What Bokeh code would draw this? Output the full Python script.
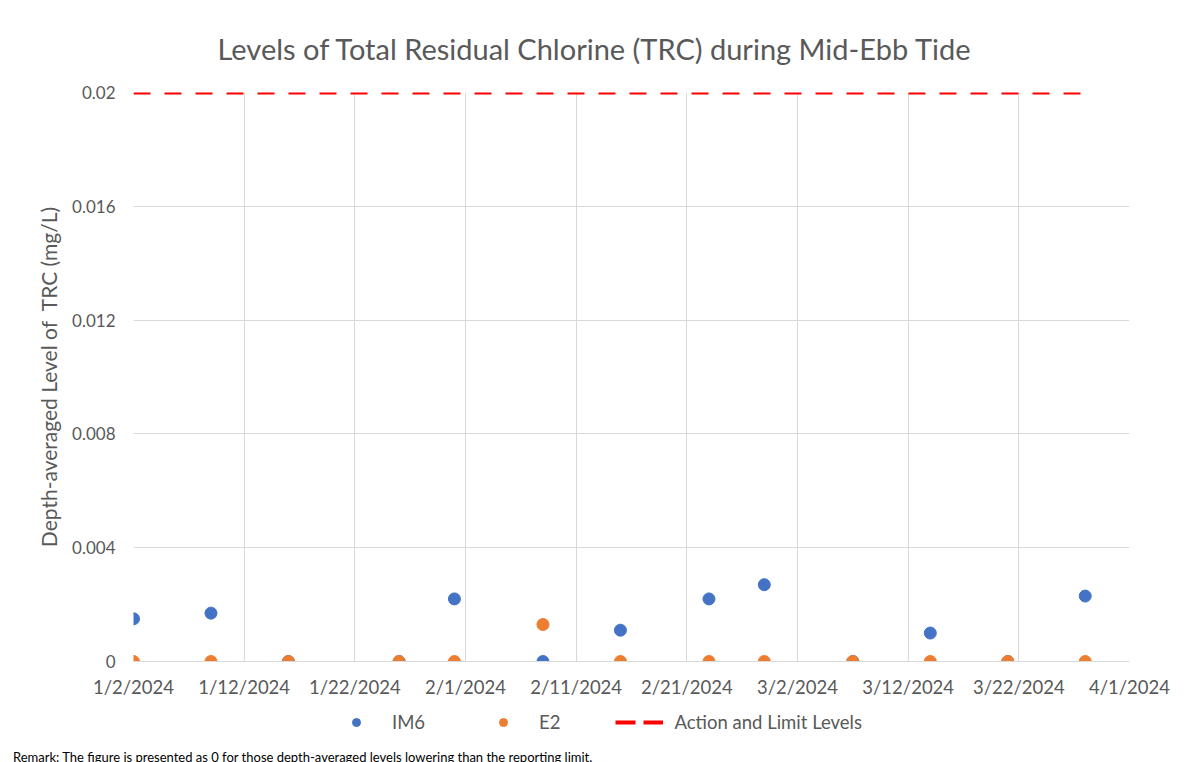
from datetime import datetime
from bokeh.plotting import figure
from bokeh.layouts import column
from bokeh.models import (ColumnDataSource, FixedTicker, CustomJSTickFormatter, Range1d,
                          Legend, LegendItem, Div)
from bokeh.embed import file_html
from bokeh.resources import INLINE

FONT = "Lato"
GREY = "#595959"
BLUE = "#4472c4"
ORANGE = "#ed7d31"
RED = "#ff0000"

# ---- data ----
im6_dates = ["2024-01-02", "2024-01-09", "2024-01-16", "2024-01-26", "2024-01-31", "2024-02-08",
             "2024-02-15", "2024-02-23", "2024-02-28", "2024-03-07", "2024-03-14", "2024-03-21",
             "2024-03-28"]
im6_values = [0.0015, 0.0017, 0.0, 0.0, 0.0022, 0.0, 0.0011, 0.0022, 0.0027, 0.0, 0.0010, 0.0, 0.0023]
e2_dates = im6_dates
e2_values = [0.0, 0.0, 0.0, 0.0, 0.0, 0.0013, 0.0, 0.0, 0.0, 0.0, 0.0, 0.0, 0.0]
limit_dates = ["2024-01-02", "2024-03-28"]
limit_values = [0.02, 0.02]
x_tick_dates = ["2024-01-02", "2024-01-12", "2024-01-22", "2024-02-01", "2024-02-11", "2024-02-21",
                "2024-03-02", "2024-03-12", "2024-03-22", "2024-04-01"]
y_ticks = [0, 0.004, 0.008, 0.012, 0.016, 0.02]
y_tick_labels = ["0", "0.004", "0.008", "0.012", "0.016", "0.02"]
series_names = ["IM6", "E2", "Action and Limit Levels"]
remark_text = "Remark: The figure is presented as 0 for those depth-averaged levels lowering than the reporting limit."

def d(s):
    return datetime.strptime(s, "%Y-%m-%d")

def ms(s):
    return (d(s) - datetime(1970, 1, 1)).total_seconds() * 1000.0

im6_src = ColumnDataSource(dict(x=[d(s) for s in im6_dates], y=im6_values))
e2_src = ColumnDataSource(dict(x=[d(s) for s in e2_dates], y=e2_values))
lim_src = ColumnDataSource(dict(x=[d(s) for s in limit_dates], y=limit_values))

# ---------------- main chart ----------------
p = figure(x_axis_type="datetime", output_backend="svg", toolbar_location=None,
           frame_width=996, frame_height=569,
           min_border_left=133, min_border_right=61, min_border_top=92, min_border_bottom=44,
           x_range=Range1d(ms(x_tick_dates[0]), ms(x_tick_dates[-1])),
           y_range=Range1d(0, 0.02))
p.outline_line_color = None
p.background_fill_color = "white"
p.border_fill_color = "white"

p.title.text = "Levels of Total Residual Chlorine (TRC) during Mid-Ebb Tide"
p.title.align = "left"
p.title.offset = 84
p.title.standoff = 54
p.title.text_font = FONT
p.title.text_font_size = "29px"
p.title.text_font_style = "normal"
p.title.text_color = GREY

p.xgrid.ticker = FixedTicker(ticks=[ms(s) for s in x_tick_dates])
p.ygrid.ticker = FixedTicker(ticks=y_ticks)
for g in (p.xgrid[0], p.ygrid[0]):
    g.grid_line_color = "#d9d9d9"
    g.grid_line_width = 1

xa = p.xaxis[0]
xa.ticker = FixedTicker(ticks=[ms(s) for s in x_tick_dates])
xa.formatter = CustomJSTickFormatter(code="""
const d = new Date(tick);
return (d.getUTCMonth()+1) + "/" + d.getUTCDate() + "/" + d.getUTCFullYear();
""")
xa.axis_line_color = "#d9d9d9"
xa.major_tick_line_color = None
xa.minor_tick_line_color = None
xa.major_tick_out = 0
xa.major_tick_in = 0
xa.major_label_text_font = FONT
xa.major_label_text_font_size = "18.5px"
xa.major_label_text_color = GREY
xa.major_label_standoff = 14

ya = p.yaxis[0]
ya.ticker = FixedTicker(ticks=y_ticks)
ya.major_label_overrides = {t: l for t, l in zip(y_ticks, y_tick_labels)}
ya.axis_line_color = None
ya.major_tick_line_color = None
ya.minor_tick_line_color = None
ya.major_label_text_font = FONT
ya.major_label_text_font_size = "17px"
ya.major_label_text_color = GREY
ya.major_label_standoff = 12
ya.axis_label = "Depth-averaged Level of\u00a0\u00a0TRC (mg/L)"
ya.axis_label_text_font = FONT
ya.axis_label_text_font_size = "21px"
ya.axis_label_text_font_style = "normal"
ya.axis_label_text_color = GREY
ya.axis_label_standoff = 8

p.line("x", "y", source=lim_src, line_color=RED, line_width=4, line_dash="17 14")
p.scatter("x", "y", source=im6_src, size=12, fill_color=BLUE, line_color=BLUE)
p.scatter("x", "y", source=e2_src, size=12, fill_color=ORANGE, line_color=ORANGE)

# ---------------- legend strip (same series, y range kept off the data) ----------------
q = figure(width=1190, height=36, output_backend="svg", toolbar_location=None, title=None,
           x_axis_location=None, y_axis_location=None,
           min_border_left=133, min_border_right=61, min_border_top=0, min_border_bottom=0,
           x_range=p.x_range, y_range=Range1d(1, 2))
q.outline_line_color = None
q.xgrid.visible = False
q.ygrid.visible = False
q.border_fill_color = "white"
q.background_fill_color = "white"

k_im6 = q.scatter("x", "y", source=im6_src, size=12, fill_color=BLUE, line_color=BLUE)
k_e2 = q.scatter("x", "y", source=e2_src, size=12, fill_color=ORANGE, line_color=ORANGE)
k_lim = q.line("x", "y", source=lim_src, line_color=RED, line_width=4, line_dash="20 8")

legend = Legend(items=[LegendItem(label=series_names[0], renderers=[k_im6]),
                       LegendItem(label=series_names[1], renderers=[k_e2]),
                       LegendItem(label=series_names[2], renderers=[k_lim])],
                orientation="horizontal", location=(199, 8),
                glyph_width=48, glyph_height=20, label_standoff=12, spacing=54,
                padding=0, margin=0, border_line_color=None, background_fill_alpha=0,
                label_text_font=FONT, label_text_font_size="18.5px", label_text_color=GREY)
q.add_layout(legend, "center")

remark = Div(text=remark_text, width=1190, height=21,
             styles={"font-family": FONT, "font-size": "13px", "color": "black",
                     "padding-left": "8px", "padding-top": "4px", "line-height": "15px",
                     "white-space": "nowrap"})

open("out.html", "w").write(file_html(column(p, q, remark, spacing=0), INLINE))
